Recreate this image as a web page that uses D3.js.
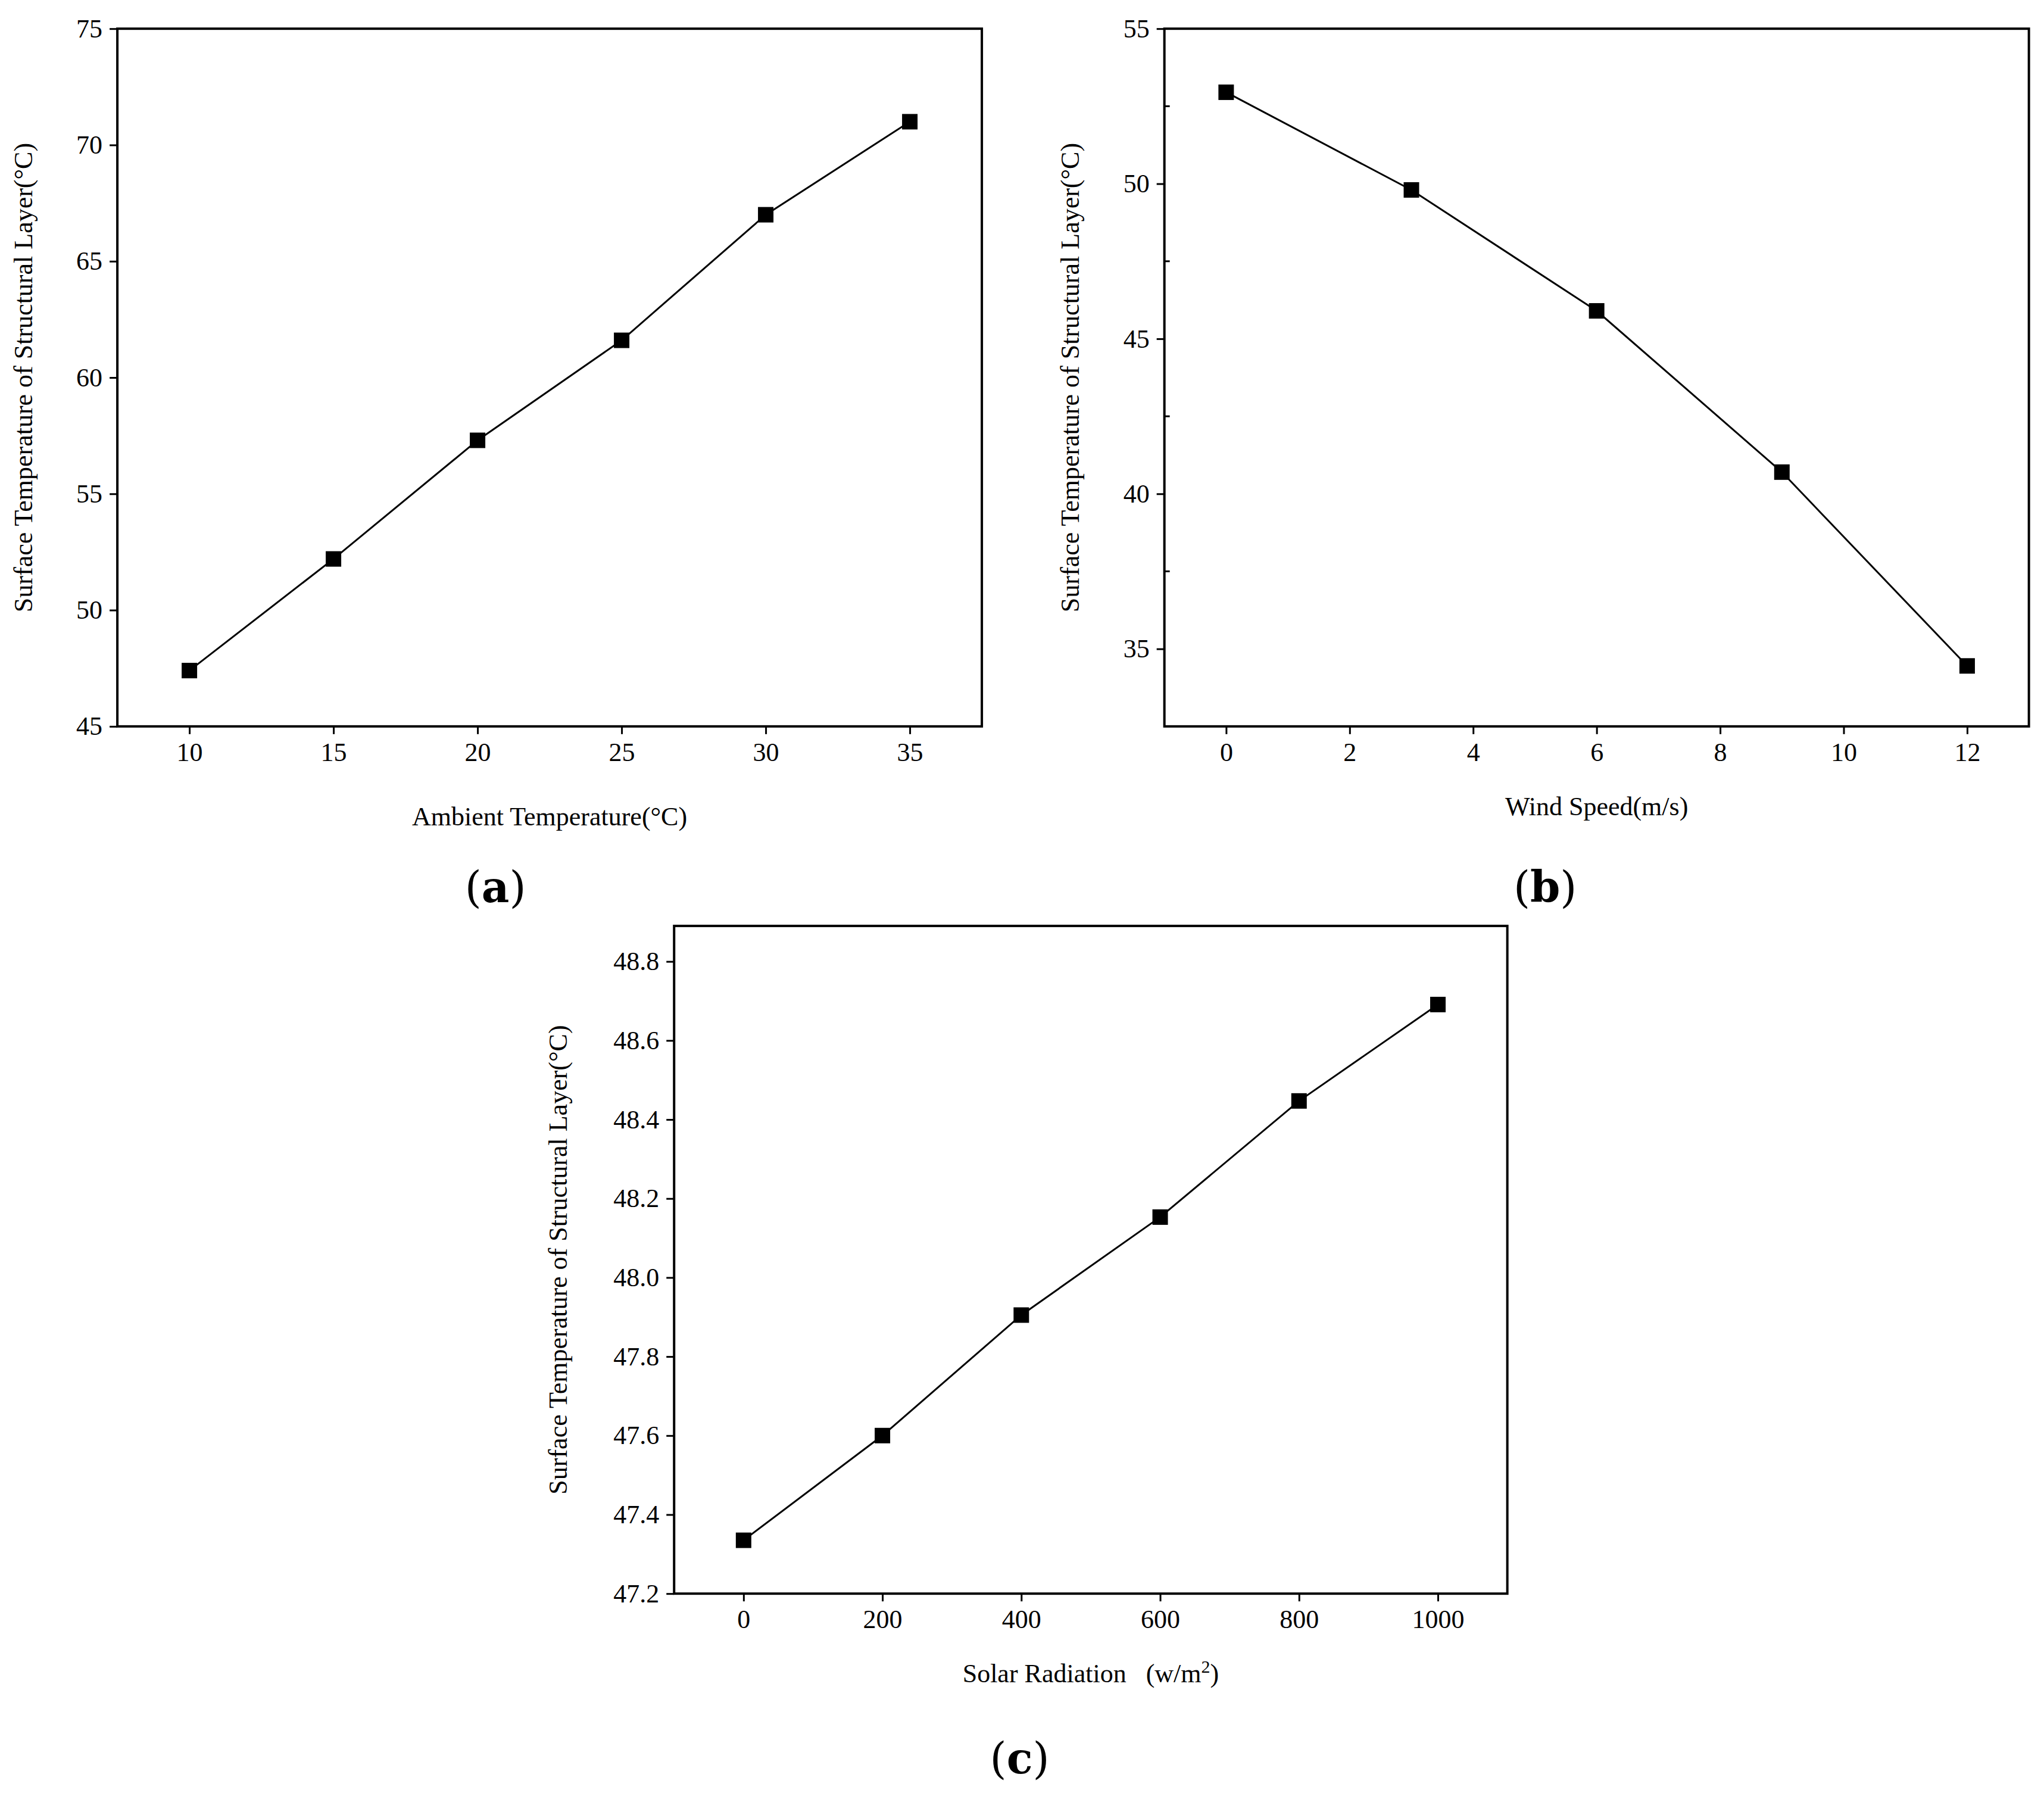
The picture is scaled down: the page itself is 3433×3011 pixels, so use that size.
<!DOCTYPE html>
<html><head><meta charset="utf-8">
<script src="https://cdn.jsdelivr.net/npm/d3@7"></script>
<style>body{margin:0;background:#fff}text{font-family:"Liberation Serif","DejaVu Serif",serif}</style>
</head><body>
<svg id="c" width="3433" height="3011"></svg>
<script>
const S = 2.19;
const aX = [10,15,20,25,30,35];
const aY = [47.4,52.2,57.3,61.6,67.0,71.0];
const bX = [0,3,6,9,12];
const bY = [52.95,49.8,45.9,40.7,34.45];
const cX = [0,200,400,600,800,1000];
const cY = [47.335,47.6,47.905,48.153,48.447,48.691];
const aTicksX=[10,15,20,25,30,35], aTicksY=[45,50,55,60,65,70,75];
const bTicksX=[0,2,4,6,8,10,12], bTicksY=[35,40,45,50,55];
const cTicksX=[0,200,400,600,800,1000], cTicksY=[47.2,47.4,47.6,47.8,48.0,48.2,48.4,48.6,48.8];
const yTitle="Surface Temperature of Structural Layer(\u00B0C)";
const svg=d3.select("#c");
function panel(o){
  const x=d3.scaleLinear().domain(o.xd).range([o.l*S,o.r*S]);
  const y=d3.scaleLinear().domain(o.yd).range([o.b*S,o.t*S]);
  const g=svg.append("g");
  const ax=g.append("g").attr("transform",`translate(0,${o.b*S})`).call(d3.axisBottom(x).tickValues(o.tx).tickSize(13).tickPadding(14).tickFormat(o.fx||d3.format("d")));
  const ay=g.append("g").attr("transform",`translate(${o.l*S},0)`).call(d3.axisLeft(y).tickValues(o.ty).tickSize(13).tickPadding(12).tickFormat(o.fy||d3.format("d")));
  [ax,ay].forEach(a=>{a.select(".domain").remove();a.selectAll("line").attr("stroke","#000").attr("stroke-width",3);a.selectAll("text").attr("font-size",44).attr("fill","#000").style("font-family","Liberation Serif");});
  if(o.minor){g.selectAll(".mn").data(o.minor).enter().append("line").attr("x1",o.l*S).attr("x2",o.l*S+9).attr("y1",d=>y(d)).attr("y2",d=>y(d)).attr("stroke","#000").attr("stroke-width",3);}
  g.append("rect").attr("x",o.l*S).attr("y",o.t*S).attr("width",(o.r-o.l)*S).attr("height",(o.b-o.t)*S).attr("fill","none").attr("stroke","#000").attr("stroke-width",4);
  const pts=o.xs.map((d,i)=>[d,o.ys[i]]);
  g.append("path").attr("d",d3.line().x(d=>x(d[0])).y(d=>y(d[1]))(pts)).attr("fill","none").attr("stroke","#000").attr("stroke-width",3);
  g.selectAll(".m").data(pts).enter().append("rect").attr("x",d=>x(d[0])-13).attr("y",d=>y(d[1])-13).attr("width",26).attr("height",26).attr("fill","#000");
  g.append("text").attr("transform",`translate(${o.yt*S},${(o.t+o.b)/2*S}) rotate(-90)`).attr("text-anchor","middle").attr("dominant-baseline","middle").attr("font-size",44).text(yTitle);
  const xt=g.append("text").attr("x",(o.l+o.r)/2*S).attr("y",o.xtY*S).attr("text-anchor","middle").attr("font-size",44);
  if(o.xtHtml){xt.text("Solar Radiation\u00A0\u00A0\u00A0(w/m");xt.append("tspan").attr("dy",-16).attr("font-size",30).text("2");xt.append("tspan").attr("dy",16).text(")");}
  else xt.text(o.xt);
  const lab=svg.append("text").attr("x",o.lx*S).attr("y",o.ly*S).attr("text-anchor","middle").attr("font-size",72).style("font-family","DejaVu Serif");
  lab.append("tspan").text("(");lab.append("tspan").attr("font-weight","bold").text(o.lab);lab.append("tspan").text(")");
}
panel({l:90,r:753,t:22,b:557,xd:[7.5,37.5],yd:[45,75],tx:aTicksX,ty:aTicksY,xs:aX,ys:aY,yt:20,xt:"Ambient Temperature(\u00B0C)",xtY:633,lab:"a",lx:380,ly:692});
panel({l:893,r:1556,t:22,b:557,xd:[-1,13],yd:[32.5,55],tx:bTicksX,ty:bTicksY,xs:bX,ys:bY,yt:823,xt:"Wind Speed(m/s)",xtY:625,lab:"b",lx:1185,ly:692,minor:[37.5,42.5,47.5,52.5]});
panel({l:517,r:1156,t:710,b:1222,xd:[-100,1100],yd:[47.2,48.89],tx:cTicksX,ty:cTicksY,xs:cX,ys:cY,yt:430,xtHtml:true,xtY:1290,fy:d3.format(".1f"),lab:"c",lx:782,ly:1360});
</script>
</body></html>
